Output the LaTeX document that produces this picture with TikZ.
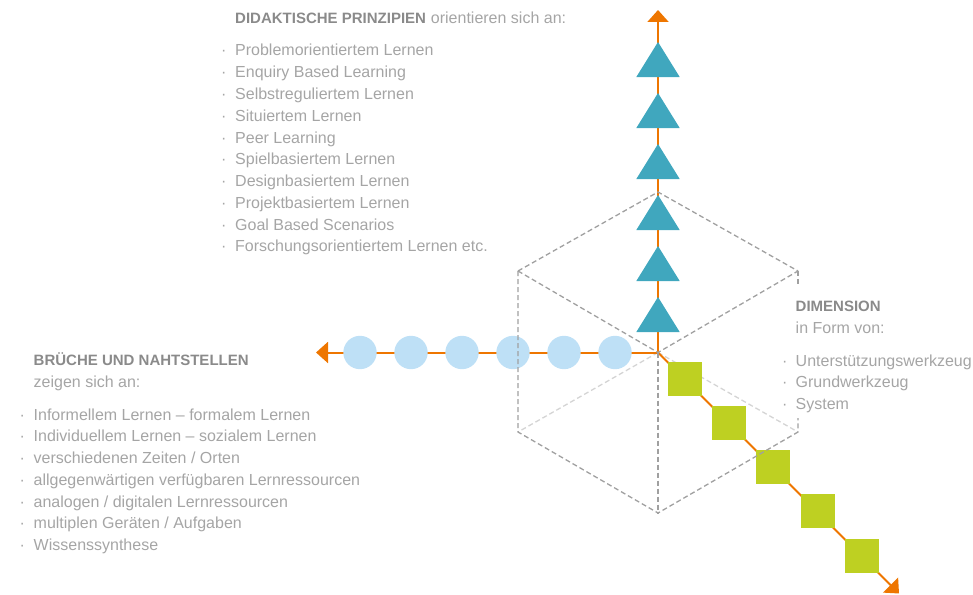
\documentclass[tikz,border=0pt]{standalone}
\usepackage{fontspec}
\setmainfont{Liberation Sans}
\usetikzlibrary{arrows.meta}
\definecolor{axisOr}{RGB}{238,118,0}
\definecolor{triC}{RGB}{64,167,190}
\definecolor{cirC}{RGB}{190,224,246}
\definecolor{sqC}{RGB}{190,208,34}
\definecolor{txtC}{RGB}{165,165,165}
\definecolor{hdC}{RGB}{138,138,138}
\definecolor{dashC}{RGB}{160,160,160}
\definecolor{dashL}{RGB}{212,212,212}
\tikzset{
  axisline/.style={draw=axisOr, line width=2pt, -{Triangle[length=12pt,width=21pt]}},
  cubedash/.style={draw=dashC, line width=1.3pt, dash pattern=on 5pt off 3pt},
  cubelight/.style={draw=dashL, line width=1.3pt, dash pattern=on 5pt off 3pt},
  txt/.style={anchor=base west, inner sep=0pt, text=txtC, font=\fontsize{16}{19}\selectfont},
  hd/.style={anchor=base west, inner sep=0pt, text=hdC, font=\fontsize{15}{18}\selectfont\bfseries},
  bul/.style={anchor=base west, inner sep=0pt, text=txtC, font=\fontsize{16}{19}\selectfont},
}
\begin{document}
\begin{tikzpicture}[x=1pt,y=-1pt]
\useasboundingbox (0,0) rectangle (973,594);
% cube corners
\coordinate (T) at (658,192);
\coordinate (UL) at (518,271);
\coordinate (UR) at (798,271);
\coordinate (O) at (658,352.5);
\coordinate (LL) at (518,432);
\coordinate (LR) at (798,432);
\coordinate (B) at (658,513);
\coordinate (gapTop) at (798,286);
\coordinate (gapBot) at (798,418);
\coordinate (topEnd) at (658,10);
\coordinate (leftEnd) at (316,352.5);
\coordinate (diagEnd) at (899,593.5);
% hidden edges
\draw[cubelight] (O) -- (LL);
\draw[cubelight] (O) -- (LR);
% axes
\draw[axisline] (O) -- (topEnd);
\draw[axisline] (O) -- (leftEnd);
\draw[axisline] (O) -- (diagEnd);
% triangles
\foreach \y [count=\i] in {59.5,110.5,161.5,212.5,263.5,314.5}
  \fill[triC] (658,\y-17.5) -- (679.7,\y+17.5) -- (636.3,\y+17.5) -- cycle;
% circles
\foreach \x [count=\i] in {360,411,462,513,564,615}
  \fill[cirC] (\x,352.5) circle[radius=16.7pt];
% squares
\foreach \x/\y [count=\i] in {685/379,729/423,773/467,818/511,862/556}
  \fill[sqC] (\x-17,\y-17) rectangle (\x+17,\y+17);
% visible cube edges
\draw[cubedash] (UL) -- (T) -- (UR);
\draw[cubedash] (UL) -- (O) -- (UR);
\draw[cubedash] (UL) -- (LL) -- (B) -- (LR) -- (gapBot);
\draw[cubedash] (UR) -- (gapTop);
\draw[cubedash] (O) -- (B);
% top text
\node[hd] (hTop) at (235,23.5) {DIDAKTISCHE PRINZIPIEN};
\node[txt] (hTop2) at ([xshift=4.5pt]hTop.base east) {orientieren sich an:};
\foreach \t [count=\i] in {Problemorientiertem Lernen,Enquiry Based Learning,Selbstreguliertem Lernen,Situiertem Lernen,Peer Learning,Spielbasiertem Lernen,Designbasiertem Lernen,Projektbasiertem Lernen,Goal Based Scenarios,Forschungsorientiertem Lernen etc.}{
  \node[bul] (tb\i) at (221,{56+(\i-1)*21.75}) {·};
  \node[txt] (tt\i) at (235,{56+(\i-1)*21.75}) {\t};
}
% left text
\node[hd] (hLeft) at (33.5,365) {BRÜCHE UND NAHTSTELLEN};
\node[txt] (hLeft2) at (33.5,387) {zeigen sich an:};
\foreach \t [count=\i] in {Informellem Lernen – formalem Lernen,Individuellem Lernen – sozialem Lernen,verschiedenen Zeiten / Orten,allgegenwärtigen verfügbaren Lernressourcen,analogen / digitalen Lernressourcen,multiplen Geräten / Aufgaben,Wissenssynthese}{
  \node[bul] (lb\i) at (19.5,{420+(\i-1)*21.75}) {·};
  \node[txt] (lt\i) at (33.5,{420+(\i-1)*21.75}) {\t};
}
% right text
\node[hd] (hRight) at (795.5,311.5) {DIMENSION};
\node[txt] (hRight2) at (795.5,333.5) {in Form von:};
\foreach \t [count=\i] in {Unterstützungswerkzeug,Grundwerkzeug,System}{
  \node[bul] (rb\i) at (782,{366+(\i-1)*21.75}) {·};
  \node[txt] (rt\i) at (795.5,{366+(\i-1)*21.75}) {\t};
}
\end{tikzpicture}
\end{document}
